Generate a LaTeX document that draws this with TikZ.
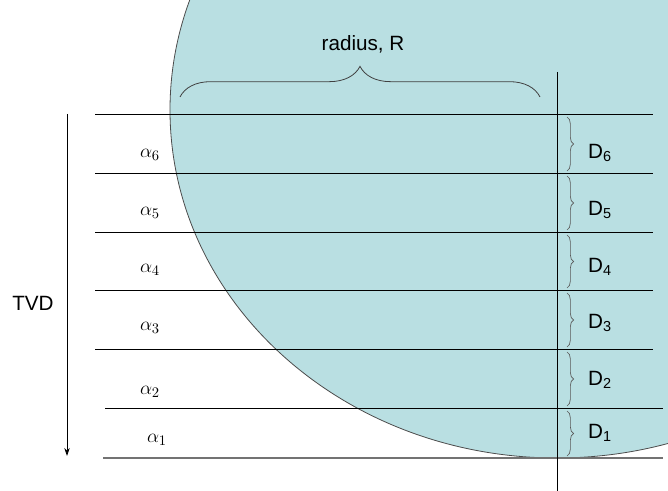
\documentclass[tikz,border=0pt]{standalone}
\usepackage{fontspec}
\setmainfont{Liberation Sans}
\usepackage{tikz}
\usetikzlibrary{arrows.meta,decorations.pathreplacing,calc}
\definecolor{shell}{RGB}{185,223,226}

\begin{document}
\begin{tikzpicture}[
  x=0.75pt, y=-0.75pt,
  level/.style={draw, line width=0.6pt},
  dbrace/.style={decorate, decoration={brace, amplitude=5pt}, draw=black!65, line width=0.5pt},
  rbrace/.style={decorate, decoration={brace, amplitude=23pt}, draw=black!75, line width=0.6pt},
  txt/.style={font=\fontsize{15.5}{18}\selectfont, inner sep=1pt},
  arrow/.style={-{Stealth[length=6pt, width=4pt]}, line width=0.6pt}
  ]
  \useasboundingbox (0,0) rectangle (668,491);
  % formation
  \begin{scope}
    \clip (0,0) rectangle (668,491);
    \fill[shell, draw=black!70, line width=0.6pt] (557,110) ellipse [x radius=387, y radius=348];
  \end{scope}
  % levels
  \foreach \y in {114,173,232,290,349}
    \draw[level] (95,\y) -- (653,\y);
  \draw[level] (105,408) -- (663,408);
  \draw[level, draw=black!55, line width=1pt] (103,458) -- (663,458);
  % well
  \coordinate (welltop) at (557,72);
  \coordinate (wellbot) at (557,491);
  \draw[level] (welltop) -- (wellbot);
  % radius
  \coordinate (rleft) at (180,97);
  \coordinate (rright) at (540,97);
  \draw[rbrace] (rleft) -- (rright);
  \node[txt] (rlabel) at (363,44) {radius, R};
  % TVD
  \coordinate (tvdtop) at (67,114);
  \coordinate (tvdbot) at (67,456);
  \draw[arrow] (tvdtop) -- (tvdbot);
  \node[txt] (tvd) at (33,303) {TVD};
  % angles
  \foreach \i/\y/\x in {6/155/150,5/213/150,4/270/150,3/328/150,2/392/150,1/440/157}
    \node[txt] (a\i) at (\x,\y) {$\alpha_{\i}$};
  % intervals
  \foreach \i/\ya/\yb in {6/117/171,5/176/230,4/235/288,3/293/347,2/352/406,1/411/456}
    \draw[dbrace] (567,\ya) -- (567,\yb);
  \foreach \i/\y in {6/153,5/210,4/267,3/323,2/380,1/433}
    \node[txt] (d\i) at (600,\y) {D\textsubscript{\i}};
\end{tikzpicture}
\end{document}
